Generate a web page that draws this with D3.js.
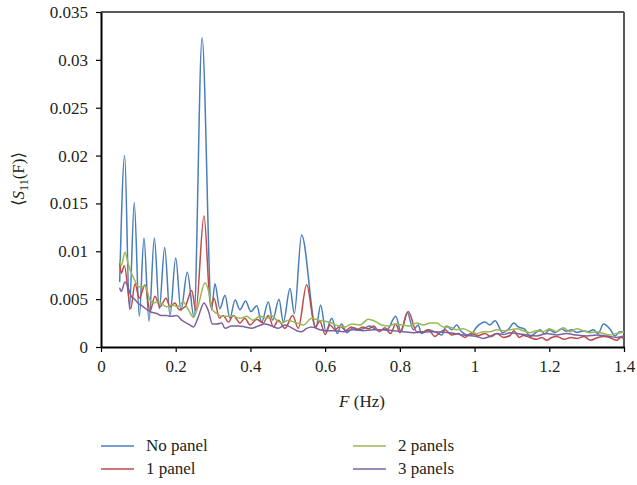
<!DOCTYPE html>
<html>
<head>
<meta charset="utf-8">
<script src="https://cdn.jsdelivr.net/npm/d3@7"></script>
<style>
  body { margin: 0; background: #fff; }
  svg text { font-family: "Times New Roman", "Liberation Serif", "Noto Serif", "DejaVu Serif", serif; fill: #231f20; }
</style>
</head>
<body>
<svg id="chart" width="637" height="485"></svg>
<script>
// values: F in Hz, <S11(F)>
const fNoPanel = [0.05, 0.0634, 0.076, 0.089, 0.1025, 0.115, 0.1285, 0.1428, 0.156, 0.1705, 0.1847, 0.2, 0.214, 0.231, 0.249, 0.2705, 0.296, 0.305, 0.318, 0.332, 0.345, 0.359, 0.372, 0.387, 0.401, 0.417, 0.43, 0.448, 0.4595, 0.4765, 0.488, 0.506, 0.5175, 0.537, 0.5755, 0.588, 0.602, 0.6175, 0.6325, 0.644, 0.658, 0.675, 0.693, 0.72, 0.738, 0.765, 0.789, 0.803, 0.82, 0.836, 0.849, 0.858, 0.876, 0.894, 0.912, 0.925, 0.939, 0.952, 0.965, 0.988, 1.006, 1.028, 1.041, 1.055, 1.075, 1.092, 1.105, 1.117, 1.135, 1.148, 1.164, 1.175, 1.188, 1.2, 1.215, 1.233, 1.246, 1.26, 1.273, 1.291, 1.304, 1.318, 1.331, 1.345, 1.364, 1.376, 1.389, 1.4];
const sNoPanel = [0.0068, 0.0200, 0.0039, 0.0151, 0.0032, 0.0114, 0.0027, 0.0114, 0.0040, 0.0104, 0.0033, 0.0093, 0.0038, 0.0078, 0.0031, 0.0323, 0.0039, 0.0066, 0.0040, 0.0054, 0.0030, 0.0049, 0.0039, 0.0048, 0.0037, 0.0043, 0.0026, 0.0047, 0.0028, 0.0050, 0.0026, 0.0061, 0.0035, 0.0117, 0.0020, 0.0044, 0.0016, 0.0030, 0.0014, 0.0024, 0.0015, 0.0020, 0.0018, 0.0022, 0.0018, 0.0018, 0.0032, 0.0016, 0.0036, 0.0018, 0.0023, 0.0014, 0.0018, 0.0016, 0.00125, 0.0022, 0.0018, 0.0023, 0.0016, 0.0012, 0.0021, 0.0026, 0.0023, 0.00275, 0.0015, 0.0019, 0.0025, 0.0021, 0.00185, 0.0011, 0.0015, 0.0018, 0.00136, 0.0018, 0.0015, 0.0019, 0.00164, 0.0018, 0.00153, 0.00167, 0.0016, 0.0018, 0.0014, 0.0024, 0.0018, 0.00115, 0.0016, 0.0015];

const fOnePanel = [0.05, 0.054, 0.0625, 0.0795, 0.091, 0.1025, 0.118, 0.131, 0.1445, 0.158, 0.174, 0.185, 0.198, 0.209, 0.225, 0.243, 0.254, 0.2757, 0.2935, 0.3025, 0.317, 0.327, 0.341, 0.354, 0.372, 0.385, 0.399, 0.417, 0.434, 0.448, 0.4615, 0.4745, 0.4925, 0.513, 0.528, 0.5505, 0.573, 0.586, 0.6, 0.613, 0.627, 0.64, 0.655, 0.67, 0.686, 0.7, 0.716, 0.73, 0.745, 0.76, 0.775, 0.789, 0.8, 0.8225, 0.845, 0.863, 0.876, 0.894, 0.907, 0.921, 0.939, 0.956, 0.974, 0.99, 1.01, 1.028, 1.044, 1.06, 1.077, 1.095, 1.105, 1.12, 1.13, 1.148, 1.166, 1.18, 1.193, 1.206, 1.22, 1.24, 1.258, 1.275, 1.293, 1.31, 1.33, 1.345, 1.362, 1.38, 1.392, 1.4];
const sOnePanel = [0.0088, 0.0077, 0.0085, 0.0040, 0.0066, 0.0051, 0.0065, 0.0037, 0.0053, 0.0042, 0.0051, 0.0042, 0.0046, 0.0039, 0.0042, 0.0059, 0.0038, 0.0137, 0.0042, 0.0051, 0.0030, 0.0033, 0.0026, 0.0033, 0.0025, 0.0030, 0.0023, 0.0029, 0.0025, 0.0033, 0.0021, 0.0028, 0.00195, 0.0033, 0.00195, 0.0065, 0.0021, 0.0027, 0.0013, 0.0023, 0.0018, 0.0022, 0.0017, 0.0021, 0.0018, 0.0021, 0.0019, 0.0022, 0.0016, 0.0020, 0.0014, 0.0024, 0.0015, 0.0037, 0.0016, 0.0016, 0.0018, 0.0011, 0.0015, 0.0018, 0.00125, 0.0014, 0.0010, 0.0014, 0.0012, 0.0014, 0.0011, 0.0014, 0.0010, 0.0012, 0.0017, 0.0010, 0.0012, 0.0010, 0.0008, 0.0010, 0.0007, 0.0010, 0.0011, 0.0008, 0.0010, 0.0009, 0.0011, 0.0007, 0.0010, 0.0011, 0.0010, 0.0007, 0.0010, 0.0009];

const fTwoPanels = [0.05, 0.054, 0.0643, 0.072, 0.0795, 0.09, 0.1, 0.11, 0.118, 0.131, 0.14, 0.15, 0.16, 0.175, 0.19, 0.205, 0.22, 0.234, 0.2475, 0.26, 0.2785, 0.29, 0.298, 0.31, 0.324, 0.354, 0.372, 0.39, 0.406, 0.4256, 0.4435, 0.457, 0.47, 0.4835, 0.501, 0.524, 0.5415, 0.564, 0.582, 0.6, 0.6175, 0.635, 0.6535, 0.671, 0.693, 0.7155, 0.733, 0.751, 0.769, 0.787, 0.809, 0.827, 0.845, 0.863, 0.8806, 0.8986, 0.916, 0.934, 0.952, 0.97, 0.988, 1.006, 1.024, 1.041, 1.059, 1.077, 1.095, 1.113, 1.13, 1.148, 1.166, 1.184, 1.2, 1.22, 1.2375, 1.255, 1.273, 1.291, 1.309, 1.327, 1.3445, 1.3625, 1.38, 1.4];
const sTwoPanels = [0.0091, 0.0085, 0.0099, 0.0088, 0.0079, 0.0070, 0.0063, 0.0063, 0.0064, 0.0049, 0.0046, 0.0047, 0.0046, 0.0042, 0.0044, 0.0042, 0.0047, 0.0039, 0.0031, 0.0043, 0.0067, 0.0055, 0.0039, 0.0035, 0.0032, 0.0032, 0.0030, 0.0032, 0.0028, 0.0032, 0.0030, 0.0033, 0.0028, 0.0025, 0.0028, 0.0025, 0.0023, 0.0030, 0.0028, 0.0027, 0.0025, 0.0022, 0.0021, 0.0024, 0.0023, 0.0029, 0.0027, 0.0023, 0.0022, 0.0024, 0.0023, 0.0022, 0.0025, 0.0023, 0.0025, 0.0025, 0.0021, 0.0021, 0.0018, 0.0019, 0.0016, 0.0014, 0.0016, 0.0016, 0.0018, 0.0017, 0.0018, 0.0019, 0.0017, 0.0015, 0.0017, 0.0016, 0.0019, 0.0016, 0.0020, 0.0016, 0.0019, 0.0017, 0.0015, 0.0016, 0.0014, 0.00125, 0.0014, 0.0016];

const fThreePanels = [0.05, 0.054, 0.0643, 0.072, 0.0795, 0.09, 0.1, 0.11, 0.131, 0.149, 0.161, 0.176, 0.185, 0.2025, 0.216, 0.234, 0.2475, 0.26, 0.2757, 0.288, 0.298, 0.31, 0.323, 0.332, 0.35, 0.3675, 0.385, 0.403, 0.421, 0.439, 0.457, 0.4745, 0.4925, 0.506, 0.524, 0.537, 0.5505, 0.564, 0.586, 0.604, 0.626, 0.6485, 0.675, 0.702, 0.729, 0.7556, 0.782, 0.809, 0.836, 0.88, 0.934, 0.97, 1.006, 1.023, 1.041, 1.059, 1.077, 1.095, 1.113, 1.14, 1.166, 1.193, 1.22, 1.246, 1.273, 1.3, 1.327, 1.3535, 1.38, 1.4];
const sThreePanels = [0.0062, 0.0058, 0.0068, 0.0063, 0.0054, 0.0050, 0.00455, 0.0043, 0.0037, 0.0035, 0.0033, 0.0033, 0.0032, 0.0033, 0.0028, 0.0024, 0.0021, 0.0031, 0.0046, 0.0037, 0.0024, 0.0024, 0.0025, 0.00195, 0.0022, 0.0022, 0.0021, 0.00195, 0.0022, 0.0024, 0.0022, 0.00195, 0.0023, 0.0021, 0.0017, 0.0016, 0.00195, 0.0021, 0.0018, 0.0017, 0.0017, 0.0016, 0.0018, 0.0017, 0.0018, 0.0018, 0.0017, 0.0016, 0.0015, 0.0016, 0.0015, 0.00125, 0.0011, 0.0009, 0.0011, 0.0014, 0.0013, 0.0015, 0.0014, 0.00125, 0.00115, 0.0014, 0.00125, 0.0014, 0.00125, 0.00115, 0.00125, 0.00115, 0.0010, 0.00115];

const seriesNames = ["No panel", "1 panel", "2 panels", "3 panels"];
const seriesColors = ["#4a7ebb", "#be4b48", "#98b954", "#7d60a0"];
const xTicks = [0, 0.2, 0.4, 0.6, 0.8, 1, 1.2, 1.4];
const yTicks = [0, 0.005, 0.01, 0.015, 0.02, 0.025, 0.03, 0.035];

const allF = [fNoPanel, fOnePanel, fTwoPanels, fThreePanels];
const allS = [sNoPanel, sOnePanel, sTwoPanels, sThreePanels];
const series = seriesNames.map((name, i) => ({
  name: name,
  color: seriesColors[i],
  points: allF[i].map((f, j) => ({ f: f, s: allS[i][j] }))
}));

const plotLeft = 101, plotRight = 624, plotTop = 12, plotBottom = 347;
const serif = '"Times New Roman", "Liberation Serif", "Noto Serif", "DejaVu Serif", serif';
const svg = d3.select("#chart");

const x = d3.scaleLinear().domain([0, 1.4]).range([plotLeft, plotRight]);
const y = d3.scaleLinear().domain([0, 0.035]).range([plotBottom, plotTop]);

// frame: top and right in grey
svg.append("line").attr("x1", plotLeft).attr("x2", plotRight).attr("y1", plotTop).attr("y2", plotTop)
  .attr("stroke", "#595959").attr("stroke-width", 2);
svg.append("line").attr("x1", plotRight).attr("x2", plotRight).attr("y1", plotTop).attr("y2", plotBottom)
  .attr("stroke", "#595959").attr("stroke-width", 2);

const line = d3.line()
  .x(d => x(d.f))
  .y(d => y(d.s))
  .curve(d3.curveMonotoneX);

svg.append("g")
  .selectAll("path")
  .data(series)
  .enter()
  .append("path")
  .attr("d", d => line(d.points))
  .attr("fill", "none")
  .attr("stroke", d => d.color)
  .attr("stroke-width", 1.5);

const fmt = d => d === 0 ? "0" : String(+d.toFixed(3));

const yAxis = svg.append("g")
  .attr("transform", `translate(${plotLeft},0)`)
  .call(d3.axisLeft(y).tickValues(yTicks).tickFormat(fmt).tickSize(5).tickSizeOuter(0).tickPadding(8));

const xAxis = svg.append("g")
  .attr("transform", `translate(0,${plotBottom})`)
  .call(d3.axisBottom(x).tickValues(xTicks).tickFormat(fmt).tickSize(5).tickSizeOuter(0).tickPadding(8));

[yAxis, xAxis].forEach(a => {
  a.attr("font-family", serif).attr("font-size", 17);
  a.select(".domain").attr("stroke", "#000").attr("stroke-width", 2);
  a.selectAll(".tick line").attr("stroke", "#000").attr("stroke-width", 1.2);
  a.selectAll(".tick text").attr("fill", "#231f20");
});

// axis titles
const yTitle = svg.append("text")
  .attr("transform", "translate(24,179) rotate(-90)")
  .attr("text-anchor", "middle")
  .attr("font-family", serif)
  .attr("font-size", 17);
yTitle.append("tspan").text("\u27E8");
yTitle.append("tspan").attr("font-style", "italic").text("S");
yTitle.append("tspan").attr("font-size", 12).attr("dy", 4).text("11");
yTitle.append("tspan").attr("dy", -4).text("(F)\u27E9");

const xTitle = svg.append("text")
  .attr("x", 362).attr("y", 407)
  .attr("text-anchor", "middle")
  .attr("font-family", serif)
  .attr("font-size", 17);
xTitle.append("tspan").attr("font-style", "italic").text("F");
xTitle.append("tspan").text(" (Hz)");

// legend, two columns
const legend = svg.append("g")
  .selectAll("g")
  .data(series)
  .enter()
  .append("g")
  .attr("transform", (d, i) => `translate(${i < 2 ? 101 : 353},${i % 2 === 0 ? 446 : 469})`);

legend.append("line")
  .attr("x1", 0).attr("x2", 33).attr("y1", 0).attr("y2", 0)
  .attr("stroke", d => d.color).attr("stroke-width", 1.5);

legend.append("text")
  .attr("x", 45).attr("y", 0).attr("dy", "0.32em")
  .attr("font-family", serif)
  .attr("font-size", 17)
  .text(d => d.name);
</script>
</body>
</html>
